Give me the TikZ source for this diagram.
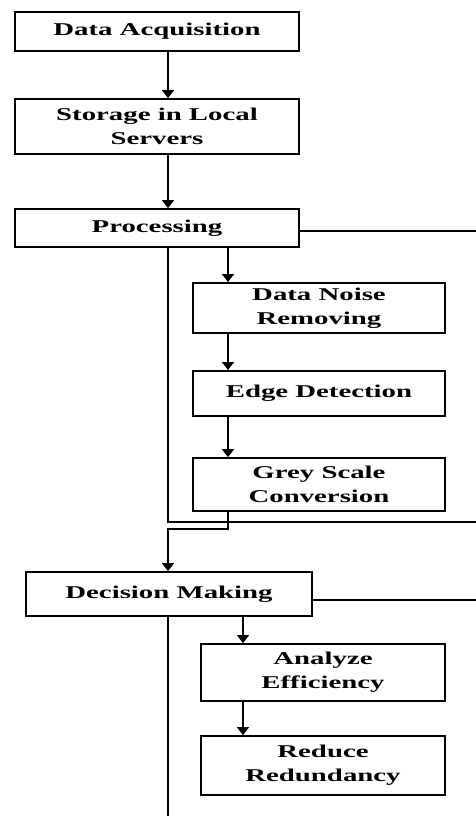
\documentclass[tikz,border=0pt]{standalone}
\usepackage{fontspec}
\setmainfont{Liberation Serif}[FakeStretch=1.6]
\usetikzlibrary{arrows.meta,positioning,calc}

\begin{document}
\begin{tikzpicture}[x=1pt, y=-1pt, >={Triangle[width=12pt,length=8pt]},
   step box/.style={draw, line width=1.8pt, rectangle, align=center, inner sep=0pt,
      font=\fontsize{18}{24}\selectfont\bfseries},
   line/.style={draw, line width=1.5pt}]

    \useasboundingbox (0,0) rectangle (476,816);

    % Place nodes
    \node [step box, minimum width=284pt, minimum height=39pt] (acq) at (157,31.5) {Data Acquisition};
    \node [step box, minimum width=284pt, minimum height=55pt] (store) at (157,126.5) {Storage in Local\\Servers};
    \node [step box, minimum width=284pt, minimum height=38pt] (proc) at (157,228) {Processing};
    \node [step box, minimum width=252pt, minimum height=50pt] (noise) at (319,308) {Data Noise\\Removing};
    \node [step box, minimum width=252pt, minimum height=45pt] (edge) at (319,393.5) {Edge Detection};
    \node [step box, minimum width=252pt, minimum height=53pt] (grey) at (319,484.5) {Grey Scale\\Conversion};
    \node [step box, minimum width=286pt, minimum height=44pt] (decide) at (169,594) {Decision Making};
    \node [step box, minimum width=244pt, minimum height=57pt] (analyze) at (323,672.5) {Analyze\\Efficiency};
    \node [step box, minimum width=244pt, minimum height=59pt] (reduce) at (323,765.5) {Reduce\\Redundancy};

    % helper coordinates
    \coordinate (spine) at (168,0);
    \coordinate (sub) at (228,0);
    \coordinate (subb) at (243,0);
    \coordinate (rim) at (476,0);
    \coordinate (low) at (0,522);
    \coordinate (bottom) at (0,816);

    % Draw edges
    \path [line,->] (acq.south -| spine) -- (store.north -| spine);
    \path [line,->] (store.south -| spine) -- (proc.north -| spine);
    \path [line] ([yshift=-3pt]proc.east) -- ([yshift=-3pt]proc.east -| rim);
    \path [line] (proc.south -| spine) -- (low -| spine) -- (low -| rim);
    \path [line,->] (proc.south -| sub) -- (noise.north -| sub);
    \path [line,->] (noise.south -| sub) -- (edge.north -| sub);
    \path [line,->] (edge.south -| sub) -- (grey.north -| sub);
    \path [line,->] (grey.south -| sub) -- ++(0,17) -| (decide.north -| spine);
    \path [line] ([yshift=-6pt]decide.east) -- ([yshift=-6pt]decide.east -| rim);
    \path [line] (decide.south -| spine) -- (bottom -| spine);
    \path [line,->] (decide.south -| subb) -- (analyze.north -| subb);
    \path [line,->] (analyze.south -| subb) -- (reduce.north -| subb);
\end{tikzpicture}
\end{document}
